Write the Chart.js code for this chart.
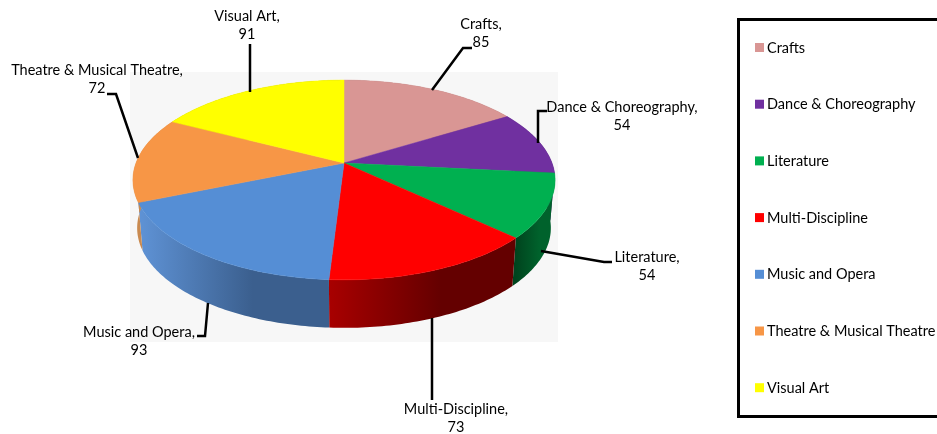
<!DOCTYPE html>
<html>
<head>
<meta charset="utf-8">
<style>
html, body { margin: 0; padding: 0; background: #fff; }
#wrap { width: 937px; height: 434px; }
</style>
<script src="https://cdn.jsdelivr.net/npm/chart.js@4"></script>
</head>
<body>
<div id="wrap"><canvas id="chart" width="937" height="434"></canvas></div>
<script>
const categories = ['Crafts', 'Dance & Choreography', 'Literature', 'Multi-Discipline', 'Music and Opera', 'Theatre & Musical Theatre', 'Visual Art']
const values = [85, 54, 54, 73, 93, 72, 91]
const topColors = ['#d99694', '#7030a0', '#00b050', '#ff0000', '#558ed5', '#f79646', '#ffff00']
const sideLeft = ['#a06e6c', '#4e2070', '#00441e', '#a80000', '#5f93d6', '#c98a50', '#b0b000']
const sideRight = ['#a06e6c', '#4e2070', '#00622c', '#640000', '#3b5f8e', '#c98a50', '#b0b000']

// label text block, leader line
const callouts = [
	{ x: 481, y: 24, line: [[432, 90], [463, 48], [472, 48]] },
	{ x: 622, y: 107, line: [[538, 143], [538, 111], [547, 111]] },
	{ x: 647, y: 257, line: [[541, 251], [604, 262], [612, 262]] },
	{ x: 456, y: 409, line: [[432, 318], [432, 400]] },
	{ x: 139, y: 332, line: [[208, 303], [205, 336], [197, 336]] },
	{ x: 97, y: 70, line: [[138, 158], [116, 94], [107, 94]] },
	{ x: 247, y: 16, line: [[250, 92], [250, 44]] }
]

const FONT = '14.5px Lato, sans-serif'
const CX = 344
const CY = 163
const RX = 208
const RY = 97
const TILT = 0.17
const DEPTH = 48
const SHRINK = 0.98

// unit circle -> tilted top face
function project(angle) {
	const u = Math.cos(angle)
	const v = Math.sin(angle)
	const d = 1 - TILT * v
	return [CX + RX * u / d, CY + RY * v / d]
}

function lower(p) {
	return [CX + (p[0] - CX) * SHRINK, p[1] + DEPTH]
}

function arcPoints(start, end) {
	const pts = []
	const steps = Math.max(8, Math.ceil((end - start) * 60))
	for (let i = 0; i <= steps; i++) {
		pts.push(project(start + (end - start) * i / steps))
	}
	return pts
}

function polygon(ctx, pts) {
	ctx.beginPath()
	pts.forEach((p, i) => (i ? ctx.lineTo(p[0], p[1]) : ctx.moveTo(p[0], p[1])))
	ctx.closePath()
}

const tiltedPie = {
	id: 'tiltedPie',
	beforeDatasetsDraw(chart) {
		const ctx = chart.ctx
		const arcs = chart.getDatasetMeta(0).data

		ctx.save()
		ctx.fillStyle = '#f7f7f7'
		ctx.fillRect(130, 72, 428, 270)

		// sides first, top face covers the back part
		arcs.forEach((arc, i) => {
			const pts = arcPoints(arc.startAngle, arc.endAngle)
			const outline = pts.concat(pts.map(lower).reverse())
			const xs = pts.map((p) => p[0])
			const grad = ctx.createLinearGradient(Math.min(...xs), 0, Math.max(...xs), 0)
			grad.addColorStop(0, sideLeft[i])
			grad.addColorStop(0.6, sideRight[i])
			polygon(ctx, outline)
			ctx.fillStyle = grad
			ctx.fill()
		})

		arcs.forEach((arc, i) => {
			const pts = arcPoints(arc.startAngle, arc.endAngle)
			polygon(ctx, [[CX, CY]].concat(pts))
			ctx.fillStyle = arc.options.backgroundColor
			ctx.fill()
			ctx.strokeStyle = arc.options.backgroundColor
			ctx.lineWidth = 0.5
			ctx.stroke()
		})
		ctx.restore()
		return false
	},
	afterDraw(chart) {
		const ctx = chart.ctx
		ctx.save()

		// leader lines and value labels
		ctx.font = FONT
		ctx.textAlign = 'center'
		ctx.textBaseline = 'middle'
		ctx.fillStyle = '#000'
		ctx.strokeStyle = '#000'
		ctx.lineWidth = 2.5
		callouts.forEach((c, i) => {
			ctx.beginPath()
			c.line.forEach((p, k) => (k ? ctx.lineTo(p[0], p[1]) : ctx.moveTo(p[0], p[1])))
			ctx.stroke()
			ctx.fillText(categories[i] + ',', c.x, c.y)
			ctx.fillText(String(values[i]), c.x, c.y + 18)
		})

		// legend box
		ctx.lineWidth = 3
		ctx.strokeRect(738.5, 19.5, 220, 397)
		ctx.textAlign = 'left'
		categories.forEach((name, i) => {
			const y = 48 + i * 56.7
			ctx.fillStyle = topColors[i]
			ctx.fillRect(755, y - 5, 9, 9)
			ctx.fillStyle = '#000'
			ctx.fillText(name, 767, y)
		})
		ctx.restore()
	}
}

new Chart(document.getElementById('chart'), {
	type: 'pie',
	data: {
		labels: categories,
		datasets: [
			{
				data: values,
				backgroundColor: topColors,
				borderWidth: 0
			}
		]
	},
	options: {
		responsive: false,
		animation: false,
		plugins: {
			legend: { display: false },
			tooltip: { enabled: false }
		}
	},
	plugins: [tiltedPie]
})
</script>
</body>
</html>
